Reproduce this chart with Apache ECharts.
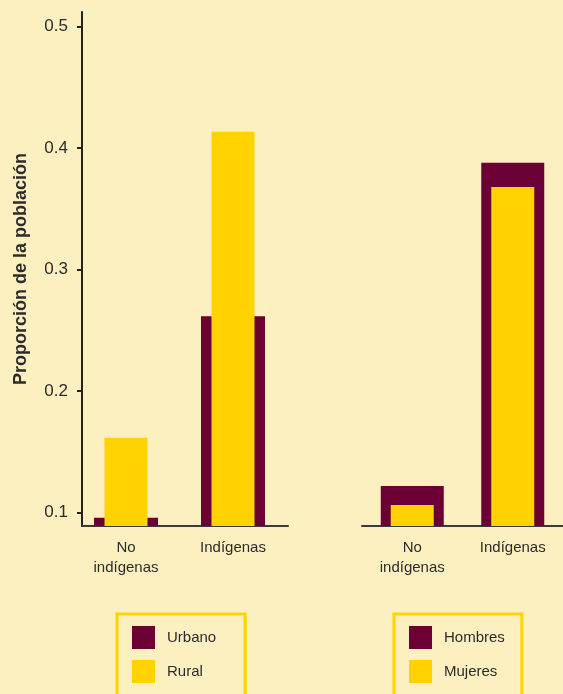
<!DOCTYPE html>
<html>
<head>
<meta charset="utf-8">
<script src="https://cdn.jsdelivr.net/npm/echarts@6.0.0/dist/echarts.min.js"></script>
<style>
  html, body { margin: 0; padding: 0; background: #fdf0c0; }
</style>
</head>
<body>
<div id="main" style="width: 563px; height: 694px"></div>
<script>
// categories and values
var categories = ["No\nindígenas", "Indígenas"];
var urbano = [0.0955, 0.2614];
var rural = [0.1614, 0.4135];
var hombres = [0.1217, 0.3879];
var mujeres = [0.106, 0.368];
var yTicks = [0.1, 0.2, 0.3, 0.4, 0.5];

var maroon = "#6a0034";
var yellow = "#ffd200";
var textColor = "#2b2b2b";
var font = "'Liberation Sans', Arial, sans-serif";
var yMin = 0.0887;
var yMax = 0.5121;

var hiddenX = function (grid) {
  return {
    type: "category",
    gridIndex: grid,
    data: categories,
    show: false,
  };
};
var labelX = function (grid) {
  return {
    type: "category",
    gridIndex: grid,
    data: categories,
    axisLine: { show: false },
    axisTick: { show: false },
    axisLabel: {
      color: textColor,
      fontFamily: font,
      fontSize: 15,
      lineHeight: 20,
      margin: 12,
    },
  };
};
var hiddenY = function (grid) {
  return {
    type: "value",
    gridIndex: grid,
    min: yMin,
    max: yMax,
    show: false,
    splitLine: { show: false },
  };
};
var legendBox = function (names, left, padRight) {
  return {
    data: names,
    orient: "vertical",
    left: left,
    top: 614,
    height: 110,
    icon: "rect",
    itemWidth: 23,
    itemHeight: 23,
    itemGap: 11,
    padding: [12, padRight, 30, 15],
    borderColor: yellow,
    borderWidth: 3,
    textStyle: {
      color: textColor,
      fontFamily: font,
      fontSize: 15,
      padding: [0, 0, 0, 7],
    },
  };
};

var option = {
  backgroundColor: "#fdf0c0",
  animation: false,
  grid: [
    // left panel: axis lines only
    { left: 82, width: 206, top: 12, bottom: 168 },
    // left panel: bars
    { left: 72.5, width: 214, top: 12, bottom: 168 },
    // right panel
    { left: 362, width: 210, top: 12, bottom: 168 },
  ],
  xAxis: [
    {
      type: "category",
      gridIndex: 0,
      data: categories,
      axisLine: { lineStyle: { color: "#3a3a3a", width: 2 } },
      axisTick: { show: false },
      axisLabel: { show: false },
    },
    labelX(1),
    hiddenX(1),
    Object.assign(labelX(2), {
      axisLine: { show: true, lineStyle: { color: "#3a3a3a", width: 2 } },
    }),
    hiddenX(2),
  ],
  yAxis: [
    {
      type: "value",
      gridIndex: 0,
      min: yMin,
      max: yMax,
      name: "Proporción de la población",
      nameLocation: "middle",
      nameGap: 52,
      nameTextStyle: {
        color: textColor,
        fontFamily: font,
        fontSize: 18,
        fontWeight: "bold",
      },
      splitLine: { show: false },
      axisLine: { show: true, lineStyle: { color: "#222", width: 2 } },
      axisTick: {
        show: true,
        length: 5,
        customValues: yTicks,
        lineStyle: { color: "#222", width: 2 },
      },
      axisLabel: {
        customValues: yTicks,
        color: textColor,
        fontFamily: font,
        fontSize: 17,
        margin: 14,
      },
    },
    hiddenY(1),
    hiddenY(2),
  ],
  legend: [
    legendBox(["Urbano", "Rural"], 117, 29),
    legendBox(["Hombres", "Mujeres"], 394, 17),
  ],
  series: [
    {
      name: "Urbano",
      type: "bar",
      xAxisIndex: 1,
      yAxisIndex: 1,
      barWidth: 64,
      itemStyle: { color: maroon },
      data: urbano,
    },
    {
      name: "Rural",
      type: "bar",
      xAxisIndex: 2,
      yAxisIndex: 1,
      barWidth: 43,
      itemStyle: { color: yellow },
      data: rural,
    },
    {
      name: "Hombres",
      type: "bar",
      xAxisIndex: 3,
      yAxisIndex: 2,
      barWidth: 63,
      itemStyle: { color: maroon },
      data: hombres,
    },
    {
      name: "Mujeres",
      type: "bar",
      xAxisIndex: 4,
      yAxisIndex: 2,
      barWidth: 43,
      itemStyle: { color: yellow },
      data: mujeres,
    },
  ],
};

var myChart = echarts.init(document.getElementById("main"));
option && myChart.setOption(option);
</script>
</body>
</html>
